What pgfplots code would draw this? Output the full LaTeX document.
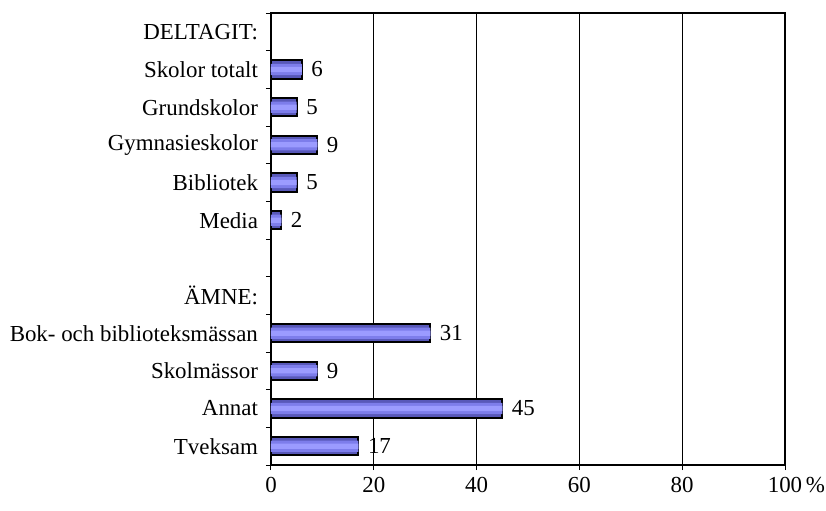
\documentclass[border=0pt]{standalone}
\usepackage{fontspec}
\setmainfont{Liberation Serif}
\usepackage{pgfplots}
\pgfplotsset{compat=1.18}
\definecolor{barout}{RGB}{88,88,185}
\definecolor{barmid}{RGB}{125,125,235}
\definecolor{barin}{RGB}{155,155,255}
\begin{document}
\fontsize{11.5}{13}\selectfont
\begin{tikzpicture}
\path[use as bounding box] (-135.5bp,-23bp) rectangle (277.5bp,232.5bp);
\begin{axis}[
  at={(0,0)}, anchor=south west,
  scale only axis,
  width=257bp, height=226bp,
  xbar, bar shift=0pt,
  xmin=0, xmax=100,
  ymin=-0.5, ymax=11.5,
  y dir=reverse,
  xtick={0,20,...,100},
  xticklabels={0,20,40,60,80,100\rlap{\,\%}},
  ytick={-0.5,0.5,...,11.5},
  y tick label as interval,
  yticklabels={DELTAGIT:,Skolor totalt,Grundskolor,Gymnasieskolor,Bibliotek,Media,,ÄMNE:,Bok- och biblioteksmässan,Skolmässor,Annat,Tveksam},
  xtick pos=bottom, ytick pos=left,
  tick align=outside,
  major tick length=2.5bp,
  every tick/.style={black, line width=0.5pt},
  xmajorgrids,
  grid style={black, line width=0.5pt},
  axis line style={black, line width=0.6pt},
  ticklabel style={font=\fontsize{11.5}{13}\selectfont},
  xticklabel style={yshift=0.5bp},
  /pgf/number format/assume math mode=true,
]
% outer bar with black border and value labels
\addplot[draw=black, line width=1bp, fill=barout, bar width=0.48,
  nodes near coords,
  every node near coord/.append style={anchor=west, xshift=0.5bp, font=\fontsize{11.5}{13}\selectfont, black}]
  coordinates {
  (6,1) (5,2) (9,3) (5,4) (2,5)
  (31,8) (9,9) (45,10) (17,11)
};
% lighter stripes inside the bars
\addplot[draw=none, fill=barmid, bar width=0.30] coordinates {
  (6,1) (5,2) (9,3) (5,4) (2,5)
  (31,8) (9,9) (45,10) (17,11)
};
\addplot[draw=none, fill=barin, bar width=0.14] coordinates {
  (6,1) (5,2) (9,3) (5,4) (2,5)
  (31,8) (9,9) (45,10) (17,11)
};
\end{axis}
\end{tikzpicture}
\end{document}
